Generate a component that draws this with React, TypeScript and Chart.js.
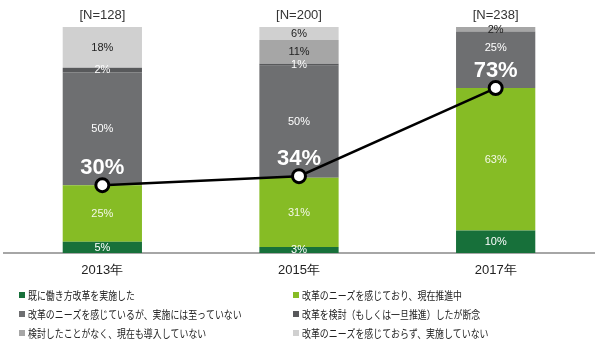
import React, { useEffect, useRef } from "react";
import { Chart, registerables } from "chart.js";

Chart.register(...registerables);

const categories = ["2013年", "2015年", "2017年"];
const sampleSizes = ["[N=128]", "[N=200]", "[N=238]"];

const seriesNames = [
  "既に働き方改革を実施した",
  "改革のニーズを感じており、現在推進中",
  "改革のニーズを感じているが、実施には至っていない",
  "改革を検討（もしくは一旦推進）したが断念",
  "検討したことがなく、現在も導入していない",
  "改革のニーズを感じておらず、実施していない",
];
const implemented = [5, 2.7, 10];
const promoting = [25, 30.6, 63];
const notYet = [50, 49.5, 25];
const abandoned = [2, 0.9, 0];
const neverConsidered = [0, 10.6, 2];
const noNeed = [18, 5.7, 0];
const combinedRate = [30, 34, 73];

const seriesColors = ["#17703a", "#86bc25", "#6e6f71", "#58595b", "#a6a6a6", "#d0d0d0"];
const labelColors = ["#ffffff", "#f4f8e8", "#ffffff", "#ffffff", "#222222", "#222222"];

const FONT = "'Liberation Sans', Arial, sans-serif";
const CJK = "'Noto Sans CJK JP', sans-serif";

const labelsPlugin = {
  id: "customLabels",
  afterDatasetsDraw(chart: any) {
    const ctx = chart.ctx;
    ctx.save();
    ctx.textAlign = "center";
    ctx.textBaseline = "middle";
    const lmeta = chart.getDatasetMeta(6);
    // bar segment labels
    ctx.font = `11px ${FONT}`;
    for (let i = 0; i < 6; i++) {
      const meta = chart.getDatasetMeta(i);
      const data = chart.data.datasets[i].data as number[];
      meta.data.forEach((el: any, j: number) => {
        const v = data[j];
        if (!v) return;
        let y = (el.y + el.base) / 2 + 0.5;
        // keep the label clear of the big line label
        const pt = lmeta.data[j];
        const bigTop = pt.y - 17 - 11;
        if (y > bigTop - 6 && y < pt.y + 10) y = Math.max(el.y + 7, bigTop - 12);
        ctx.fillStyle = labelColors[i];
        ctx.fillText(Math.round(v) + "%", el.x, y);
      });
    }
    // line labels
    ctx.font = `bold 22px ${FONT}`;
    ctx.fillStyle = "#ffffff";
    lmeta.data.forEach((pt: any, j: number) => {
      ctx.fillText(combinedRate[j] + "%", pt.x, pt.y - 17);
    });
    // N labels
    ctx.font = `13px ${FONT}`;
    ctx.fillStyle = "#333333";
    const bmeta = chart.getDatasetMeta(0);
    bmeta.data.forEach((el: any, j: number) => {
      ctx.fillText(sampleSizes[j], el.x, 15);
    });
    ctx.restore();
  },
  afterDraw(chart: any) {
    const ctx = chart.ctx;
    ctx.save();
    ctx.textBaseline = "middle";
    ctx.textAlign = "left";
    ctx.font = `11px ${CJK}`;
    const colX = [19, 293];
    const rowY = [295, 314, 333];
    for (let i = 0; i < 6; i++) {
      const x = colX[i % 2];
      const y = rowY[Math.floor(i / 2)];
      ctx.fillStyle = seriesColors[i];
      ctx.fillRect(x, y - 3, 6, 6);
      ctx.fillStyle = "#222222";
      ctx.save();
      ctx.translate(x + 9, y + 0.5);
      ctx.scale(0.81, 1);
      ctx.fillText(seriesNames[i], 0, 0);
      ctx.restore();
    }
    ctx.restore();
  },
};

export default function App() {
  const ref = useRef<HTMLCanvasElement>(null);
  useEffect(() => {
    if (!ref.current) return;
    const barData = [implemented, promoting, notYet, abandoned, neverConsidered, noNeed];
    const datasets: any[] = barData.map((d, i) => ({
      type: "bar",
      label: seriesNames[i],
      data: d,
      backgroundColor: seriesColors[i],
      borderWidth: 0,
      barPercentage: 0.403,
      categoryPercentage: 1,
      stack: "bars",
      order: 1,
    }));
    datasets.push({
      type: "line",
      label: "合計",
      data: combinedRate,
      borderColor: "#000000",
      borderWidth: 2.5,
      pointRadius: 6.5,
      pointBorderWidth: 3,
      pointBackgroundColor: "#ffffff",
      pointBorderColor: "#000000",
      stack: "line",
      order: 0,
      clip: false,
    });
    const chart = new Chart(ref.current, {
      type: "bar",
      data: { labels: categories, datasets },
      options: {
        responsive: false,
        animation: false,
        layout: { autoPadding: false, padding: { top: 27, left: 4, right: 4, bottom: 0 } },
        plugins: { legend: { display: false }, tooltip: { enabled: false } },
        scales: {
          x: {
            stacked: true,
            grid: { display: false },
            border: { display: true, color: "#a6a6a6", width: 2 },
            ticks: { font: { family: FONT, size: 13 }, color: "#222222", padding: 2 },
            afterFit: (s: any) => {
              s.height = 97;
              s.paddingLeft = 0;
              s.paddingRight = 0;
            },
          },
          y: {
            stacked: true,
            display: false,
            min: 0,
            max: 100,
          },
        },
      },
      plugins: [labelsPlugin],
    });
    return () => chart.destroy();
  }, []);
  return (
    <div style={{ position: "absolute", left: 0, top: 0, width: 598, height: 350, background: "#fff" }}>
      <canvas ref={ref} width={598} height={350} style={{ display: "block" }} />
    </div>
  );
}
